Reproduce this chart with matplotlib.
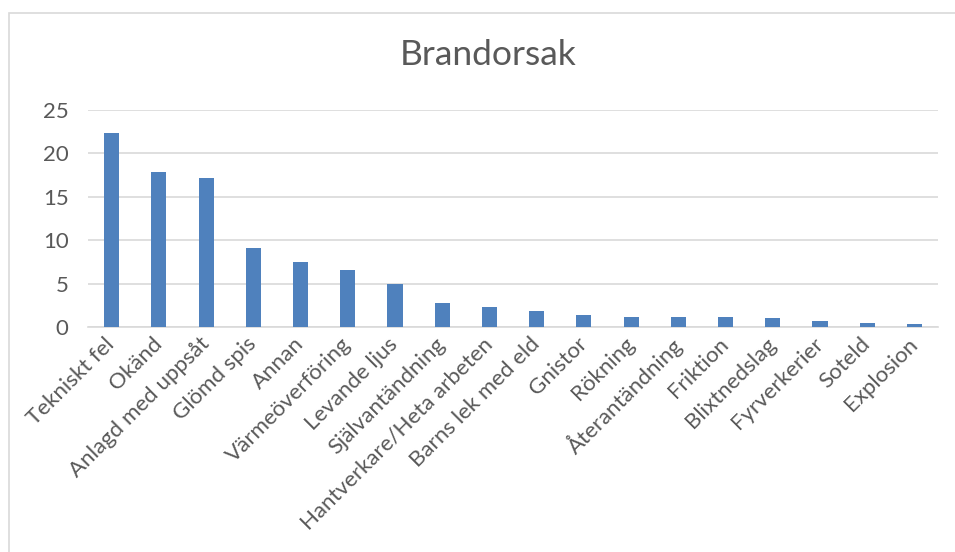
import matplotlib.pyplot as plt
from matplotlib.patches import Rectangle

# Brandorsak, andel (%) per orsak
orsaker = ["Tekniskt fel", "Okänd", "Anlagd med uppsåt", "Glömd spis", "Annan",
           "Värmeöverföring", "Levande ljus", "Självantändning",
           "Hantverkare/Heta arbeten", "Barns lek med eld", "Gnistor", "Rökning",
           "Återantändning", "Friktion", "Blixtnedslag", "Fyrverkerier",
           "Soteld", "Explosion"]
andel = [22.4, 17.9, 17.2, 9.1, 7.5, 6.6, 5.0, 2.8, 2.3, 1.9, 1.4, 1.2,
         1.2, 1.2, 1.0, 0.7, 0.5, 0.3]
y_ticks = [0, 5, 10, 15, 20, 25]

text_color = "#595959"
plt.rcParams['font.family'] = ['Lato', 'DejaVu Sans']

fig = plt.figure(figsize=(9.55, 5.52), dpi=100)

# chart frame (only top and left edges fall inside the image)
fig.patches.append(Rectangle((9 / 955, -0.1), 1.2, 1 - 13 / 552 + 0.1,
                             transform=fig.transFigure, fill=False,
                             edgecolor="#d9d9d9", linewidth=1.2))

ax = fig.add_axes([88 / 955, 1 - 327 / 552, 850 / 955, 217 / 552])
x = range(len(orsaker))
ax.bar(x, andel, width=0.32, color="#4F81BD", zorder=3)

ax.set_xlim(-0.5, len(orsaker) - 0.5)
ax.set_ylim(0, 25)
ax.set_yticks(y_ticks)
ax.yaxis.grid(True, color="#d9d9d9", linewidth=1.2, zorder=0)
ax.set_xticks(list(x))
ax.set_xticklabels(orsaker, rotation=45, ha='right', va='center',
                   rotation_mode='anchor')
ax.tick_params(axis='both', length=0, labelsize=16, colors=text_color)
ax.tick_params(axis='x', pad=10)
ax.tick_params(axis='y', pad=14)
for side in ['top', 'right', 'left']:
    ax.spines[side].set_visible(False)
ax.spines['bottom'].set_color("#d9d9d9")
ax.spines['bottom'].set_linewidth(1.2)

fig.text(488 / 955, 1 - 55 / 552, "Brandorsak", ha='center', va='center',
         fontsize=25.5, color=text_color)

fig.savefig("out.png", dpi=100)
